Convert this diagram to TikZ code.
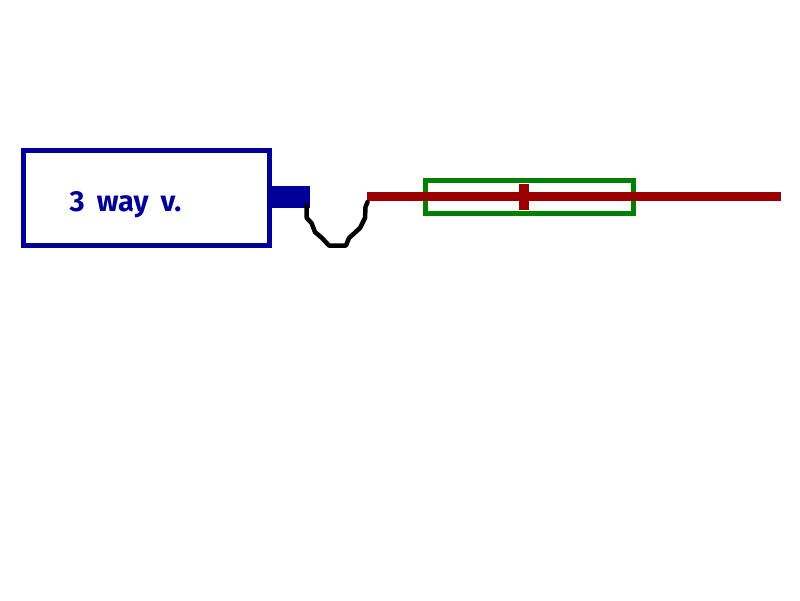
\documentclass[tikz,border=0pt]{standalone}
\usepackage{fontspec}
\setmainfont{Fira Sans}
\definecolor{navy}{RGB}{0,0,153}
\definecolor{dkgreen}{RGB}{0,128,0}
\definecolor{dkred}{RGB}{153,0,0}
\tikzset{
  outline/.style={draw,rectangle,fill=none,line width=5pt,inner sep=0pt,outer sep=0pt},
  solid box/.style={rectangle,draw=none,inner sep=0pt,outer sep=0pt},
  tube/.style={draw=none,fill=dkred},
  label text/.style={text=navy,inner sep=0pt,anchor=base,font=\fontsize{29}{30}\selectfont\bfseries},
  hose/.style={draw=black,line width=4.5pt,line join=round,line cap=round}
}
\begin{document}
\begin{tikzpicture}[x=1pt,y=-1pt]
\useasboundingbox (0,0) rectangle (800,600);
\fill[white] (0,0) rectangle (800,600);
\node[outline,draw=navy,minimum width=246pt,minimum height=95pt] (box) at (146.5,198) {};
\node[solid box,fill=navy,minimum width=40pt,minimum height=22pt] (port) at (290,197) {};
\node[outline,draw=dkgreen,minimum width=208pt,minimum height=33pt] (sleeve) at (529.5,197) {};
\node[solid box,tube,minimum width=414pt,minimum height=9pt] (rod) at (574,196.5) {};
\node[solid box,tube,minimum width=10pt,minimum height=26pt] (tick) at (524,197) {};
\node[label text] (lbl) at (125.5,211) {\spaceskip=12pt\relax 3 way v.};
\coordinate (hoseA) at (306.7,205);
\coordinate (hoseB) at (367.5,202);
\draw[hose] (hoseA) -- (306.7,218) -- (311.5,223) -- (315,232) -- (322,238) -- (329,245.5) -- (346,245.5) -- (349,238) -- (360,228) -- (365,218) -- (365.5,207) -- (hoseB);
\end{tikzpicture}
\end{document}
